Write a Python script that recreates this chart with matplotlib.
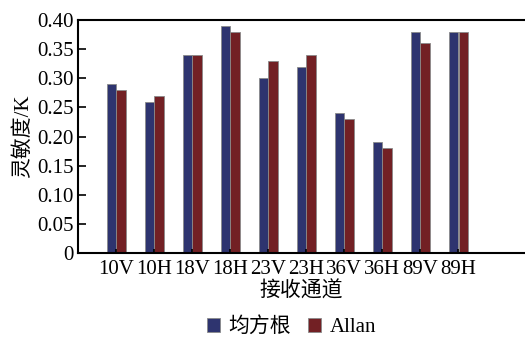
import numpy as np
import matplotlib.pyplot as plt

channels = ["10V", "10H", "18V", "18H", "23V", "23H", "36V", "36H", "89V", "89H"]
rms = [0.29, 0.26, 0.34, 0.39, 0.30, 0.32, 0.24, 0.19, 0.38, 0.38]
allan = [0.28, 0.27, 0.34, 0.38, 0.33, 0.34, 0.23, 0.18, 0.36, 0.38]


def main():
    plt.rcParams['font.family'] = ['Liberation Serif', 'Noto Sans CJK SC']
    plt.rcParams['font.size'] = 15

    fig = plt.figure(figsize=(5.25, 3.39), dpi=100)
    ax = fig.add_axes([0.1486, 0.2537, 0.85, 0.687])

    x = np.arange(len(channels))
    w = 0.24
    ax.bar(x - w / 2 - 0.01, rms, w, color='#2e346f', edgecolor='#8a8a8a',
           linewidth=0.6, label='均方根')
    ax.bar(x + w / 2 + 0.01, allan, w, color='#722024', edgecolor='#8a8a8a',
           linewidth=0.6, label='Allan')

    ax.set_xlim(-1, 10.74)
    ax.set_ylim(0, 0.40)
    ax.set_yticks(np.arange(0, 0.401, 0.05))
    ax.set_yticklabels(['0'] + ['%.2f' % v for v in np.arange(0.05, 0.401, 0.05)])
    ax.set_xticks(x)
    ax.set_xticklabels(channels)
    ax.tick_params(axis='y', direction='in', length=6, width=1.2, pad=3)
    ax.tick_params(axis='x', direction='in', length=3, width=1.2, pad=5)

    for s in ['top', 'bottom', 'left']:
        ax.spines[s].set_linewidth(1.5)
    ax.spines['right'].set_visible(False)

    ax.set_ylabel('灵敏度/K', labelpad=3)
    ax.set_xlabel('接收通道', labelpad=2)

    fig.legend(loc='center', bbox_to_anchor=(0.555, 0.035), ncol=2,
               frameon=False, handlelength=0.65, handleheight=0.65,
               handletextpad=0.4, columnspacing=0.8)

    fig.savefig('out.png', dpi=100)


if __name__ == '__main__':
    main()
